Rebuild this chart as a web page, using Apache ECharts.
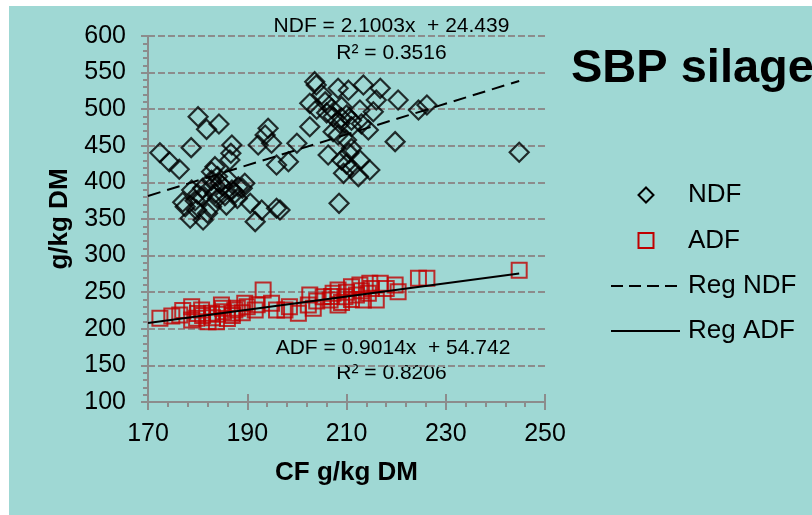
<!DOCTYPE html>
<html>
<head>
<meta charset="utf-8">
<script src="https://cdn.jsdelivr.net/npm/echarts@6/dist/echarts.min.js"></script>
<style>
html,body{margin:0;padding:0;background:#9fd8d4;overflow:hidden;}
#chart{width:812px;height:515px;}
</style>
</head>
<body>
<div id="chart"></div>
<script>
// ---- Data ----
var ndfCF = [172.4,174.3,176.3,178.7,180.1,181.8,184.3,186.9,186.7,186.5,183.5,182.8,
  194.2,193.6,192.2,194.9,195.9,189.5,178.8,177.5,178.5,181.1,185.8,190.6,192.9,195.9,191.6,
  182.8,184.5,180.8,183.5,186.9,188.2,182.8,179.8,179.5,181.0,184.0,185.0,186.0,187.5,180.0,
  182.0,184.0,188.0,189.0,177.0,183.0,185.5,
  203.6,203.9,208.3,210.4,213.4,216.8,220.4,224.5,226.2,202.6,205.7,207.0,209.0,212.7,216.0,
  215.4,207.3,208.7,207.3,202.6,214.4,211.0,208.3,200.0,198.3,219.8,206.3,211.0,209.0,212.7,
  209.4,212.4,214.7,211.0,208.5,196.6,244.8,205.0,206.0,210.0,209.0,211.0,204.0,213.0,210.0,
  210.5,210.0];
var ndfVal = [440.6,428.3,417.9,447.5,489.8,472.5,479.8,451.0,439.8,430.6,421.5,414.6,
  474.0,464.8,451.0,453.4,423.8,398.8,389.6,366.8,351.0,348.6,369.0,371.4,362.3,364.6,346.4,
  403.0,398.8,380.5,385.0,389.6,394.0,366.8,362.3,375.0,392.0,408.0,395.0,405.0,385.0,384.0,
  358.0,378.0,378.0,392.0,373.0,395.0,382.0,
  537.6,533.0,528.5,526.0,533.0,528.5,512.6,499.0,505.7,508.0,510.0,501.0,503.5,499.0,512.6,
  496.6,489.8,480.7,469.3,476.0,471.5,476.0,464.8,453.4,428.3,455.7,437.4,446.5,430.6,430.6,
  412.4,407.9,417.0,419.3,371.4,362.3,441.1,520.0,495.0,492.0,488.0,485.0,500.0,480.0,458.0,
  440.0,425.0];

var adfCF = [172.4,174.8,176.4,178.8,179.8,182.8,185.2,193.2,189.5,194.9,195.9,191.6,187.5,
  182.1,183.8,186.9,178.8,180.8,184.8,181.0,183.0,185.0,187.0,189.0,190.0,188.0,184.0,186.0,
  192.0,180.0,177.0,
  244.8,224.5,226.2,220.4,219.8,216.8,214.7,212.7,211.0,208.3,207.3,216.0,213.4,209.7,208.3,
  205.3,202.6,202.3,203.3,200.3,197.6,218.0,212.0,206.7,214.4,210.0,211.0,209.0,213.0,215.0,
  207.0,204.0,198.5];
var adfVal = [214.3,217.5,218.9,230.2,214.3,221.2,223.4,253.0,234.8,234.8,225.7,225.7,225.7,
  209.7,209.7,221.2,212.0,225.7,232.5,218.0,215.0,228.0,218.0,222.0,230.0,228.0,220.0,214.0,
  233.0,221.0,225.0,
  280.0,268.9,269.0,250.7,259.8,262.2,262.2,259.8,257.5,253.0,248.5,239.3,239.3,243.8,232.5,
  243.8,246.1,232.5,228.0,221.2,225.7,255.2,246.1,239.3,248.5,250.0,240.0,236.0,252.0,255.0,
  244.0,238.0,230.0];

// Regression line end points (from the printed equations)
var regNdfX = [170, 244.8];
var regNdfY = [381.49, 538.6];
var regAdfX = [170, 244.8];
var regAdfY = [207.98, 275.4];

var xTicks = [170, 190, 210, 230, 250];
var yTicks = [100, 150, 200, 250, 300, 350, 400, 450, 500, 550, 600];

var titleText = 'SBP silage';
var xName = 'CF g/kg DM';
var yName = 'g/kg DM';
var ndfEq = 'NDF = 2.1003x  + 24.439';
var ndfR2 = 'R² = 0.3516';
var adfEq = 'ADF = 0.9014x  + 54.742';
var adfR2 = 'R² = 0.8206';
var legendNames = ['NDF', 'ADF', 'Reg NDF', 'Reg ADF'];

function pairs(xs, ys) { return xs.map(function (x, i) { return [x, ys[i]]; }); }

var FONT = '"Liberation Sans", Arial, sans-serif';
var gridColor = '#8c8c8c';

var chart = echarts.init(document.getElementById('chart'), null, {renderer: 'canvas'});
var option = {
  animation: false,
  backgroundColor: '#9fd8d4',
  textStyle: {fontFamily: FONT},
  title: {
    text: titleText, left: 571, top: 46, padding: 0,
    textStyle: {fontFamily: FONT, fontSize: 47, fontWeight: 'bold', color: '#000'}
  },
  grid: {left: 148, top: 36, width: 397, height: 366, containLabel: false},
  xAxis: [{
    type: 'value', min: xTicks[0], max: xTicks[xTicks.length - 1], interval: 20,
    name: xName, nameLocation: 'middle', nameGap: 58,
    nameTextStyle: {fontFamily: FONT, fontSize: 26, fontWeight: 'bold', color: '#000'},
    axisLine: {show: true, onZero: false, lineStyle: {color: gridColor, width: 2}},
    axisTick: {show: true, length: 8, lineStyle: {color: gridColor, width: 2}},
    minorTick: {show: true, splitNumber: 5, length: 5, lineStyle: {color: gridColor, width: 2}},
    axisLabel: {fontFamily: FONT, fontSize: 25, color: '#000', margin: 20},
    splitLine: {show: false}
  }, {
    type: 'value', min: xTicks[0], max: xTicks[xTicks.length - 1], interval: 20,
    position: 'bottom', gridIndex: 0,
    axisLine: {show: false},
    axisTick: {show: true, inside: true, length: 8, lineStyle: {color: gridColor, width: 2}},
    axisLabel: {show: false},
    splitLine: {show: false}
  }],
  yAxis: {
    type: 'value', min: yTicks[0], max: yTicks[yTicks.length - 1], interval: 50,
    name: yName, nameLocation: 'middle', nameGap: 75, nameRotate: 90,
    nameTextStyle: {fontFamily: FONT, fontSize: 26, fontWeight: 'bold', color: '#000'},
    axisLine: {show: true, onZero: false, lineStyle: {color: gridColor, width: 2}},
    axisTick: {show: true, length: 7, lineStyle: {color: gridColor, width: 2}},
    minorTick: {show: true, splitNumber: 5, length: 5, lineStyle: {color: gridColor, width: 2}},
    axisLabel: {fontFamily: FONT, fontSize: 25, color: '#000', margin: 22},
    splitLine: {show: true, lineStyle: {color: gridColor, width: 2, type: [7, 3]}}
  },
  series: [{
    name: legendNames[0], type: 'scatter', symbol: 'diamond', symbolSize: 19,
    data: pairs(ndfCF, ndfVal),
    itemStyle: {color: 'rgba(0,0,0,0)', borderColor: '#000', borderWidth: 2.2}
  }, {
    name: legendNames[1], type: 'scatter', symbol: 'rect', symbolSize: 15,
    data: pairs(adfCF, adfVal),
    itemStyle: {color: 'rgba(0,0,0,0)', borderColor: '#c00000', borderWidth: 2}
  }, {
    name: legendNames[2], type: 'line', showSymbol: false, symbol: 'none',
    data: pairs(regNdfX, regNdfY),
    lineStyle: {color: '#000', width: 2, type: [13, 7]}, z: 5
  }, {
    name: legendNames[3], type: 'line', showSymbol: false, symbol: 'none',
    data: pairs(regAdfX, regAdfY),
    lineStyle: {color: '#000', width: 2, type: 'solid'}, z: 5
  }],
  graphic: [
    {type: 'rect', shape: {x: 0, y: 0, width: 812, height: 6}, style: {fill: '#fff'}, silent: true},
    {type: 'rect', shape: {x: 0, y: 0, width: 9, height: 515}, style: {fill: '#fff'}, silent: true},
    // equation labels
    {type: 'text', x: 391.5, y: 26, style: {text: ndfEq, font: '21px ' + FONT, fill: '#000', align: 'center', verticalAlign: 'middle'}},
    {type: 'text', x: 391.5, y: 53, style: {text: ndfR2, font: '21px ' + FONT, fill: '#000', align: 'center', verticalAlign: 'middle'}},
    {type: 'text', x: 393, y: 348, style: {text: adfEq, font: '21px ' + FONT, fill: '#000', align: 'center', verticalAlign: 'middle'}},
    {type: 'text', x: 391.5, y: 373, style: {text: adfR2, font: '21px ' + FONT, fill: '#000', align: 'center', verticalAlign: 'middle'}},
    // legend
    {type: 'polygon', shape: {points: [[646, 187.5], [653.5, 195], [646, 202.5], [638.5, 195]]}, style: {fill: 'none', stroke: '#000', lineWidth: 2}},
    {type: 'rect', shape: {x: 638.5, y: 233, width: 15, height: 15}, style: {fill: 'none', stroke: '#c00000', lineWidth: 2}},
    {type: 'line', shape: {x1: 611, y1: 286, x2: 680, y2: 286}, style: {stroke: '#000', lineWidth: 2, lineDash: [12, 6]}},
    {type: 'line', shape: {x1: 611, y1: 331, x2: 680, y2: 331}, style: {stroke: '#000', lineWidth: 2}},
    {type: 'text', x: 688, y: 195, style: {text: legendNames[0], font: '26px ' + FONT, fill: '#000', verticalAlign: 'middle'}},
    {type: 'text', x: 688, y: 241, style: {text: legendNames[1], font: '26px ' + FONT, fill: '#000', verticalAlign: 'middle'}},
    {type: 'text', x: 688, y: 286, style: {text: legendNames[2], font: '26px ' + FONT, fill: '#000', verticalAlign: 'middle'}},
    {type: 'text', x: 688, y: 331, style: {text: legendNames[3], font: '26px ' + FONT, fill: '#000', verticalAlign: 'middle'}}
  ]
};
chart.setOption(option);
</script>
</body>
</html>
